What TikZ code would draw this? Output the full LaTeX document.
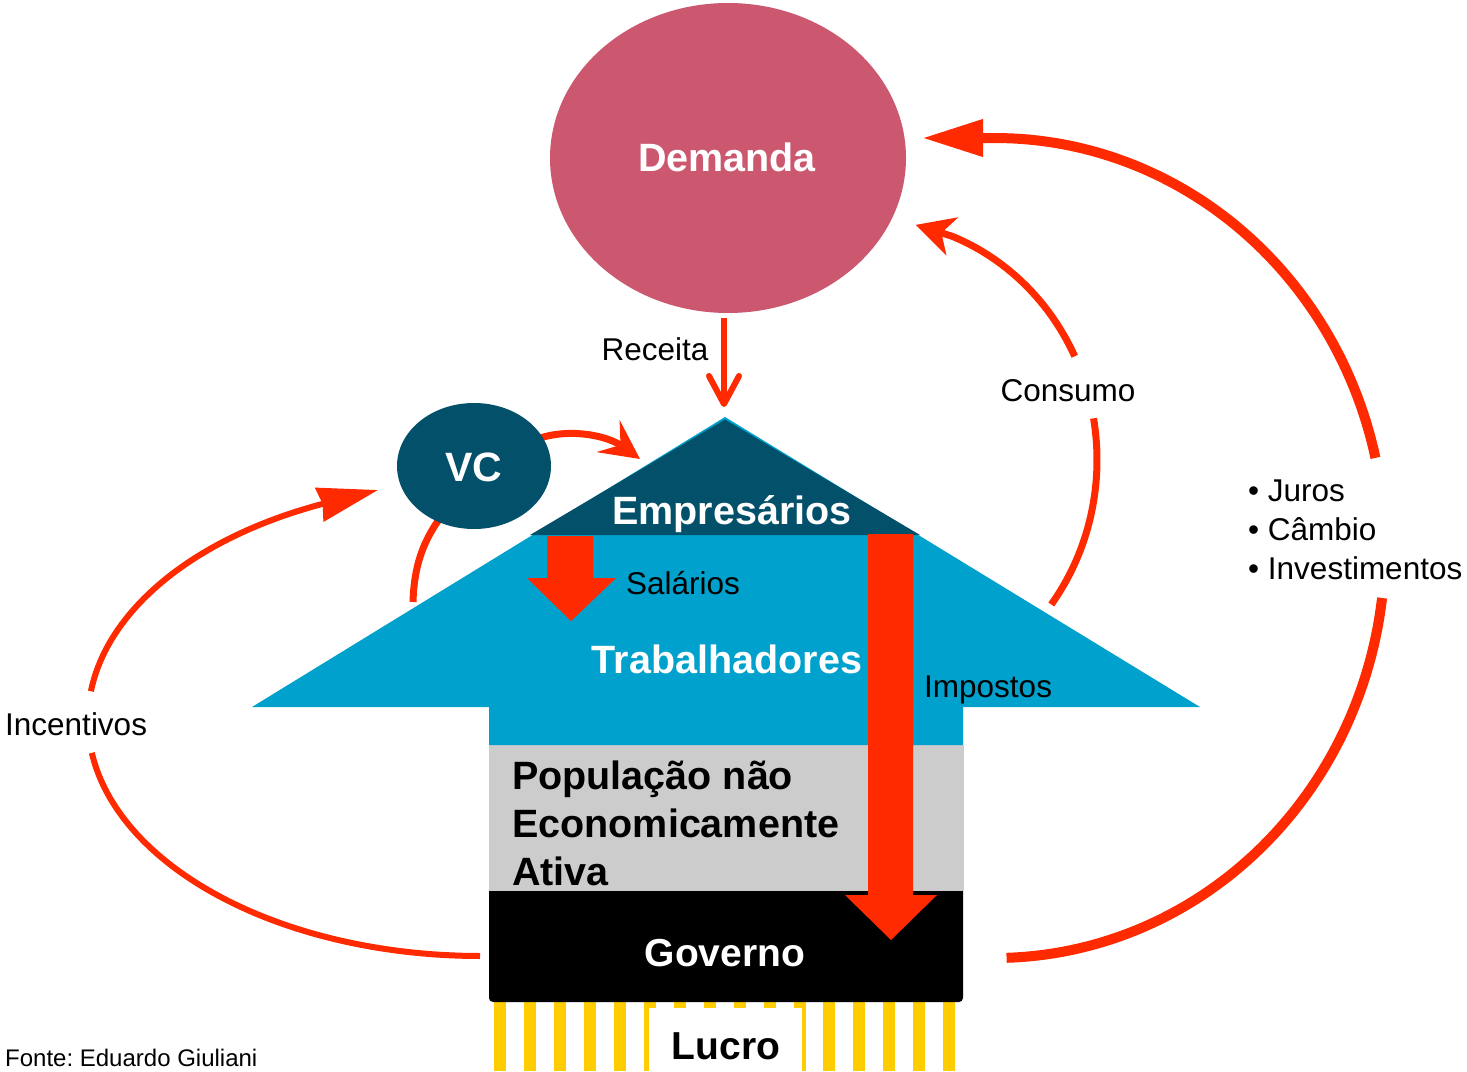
\documentclass[tikz,border=0pt]{standalone}
\usepackage{fontspec}
\setmainfont{Liberation Sans}
\usetikzlibrary{arrows.meta,shapes.geometric}
\definecolor{demcol}{HTML}{CC5870}
\definecolor{darkteal}{HTML}{02506A}
\definecolor{lightblue}{HTML}{00A1CD}
\definecolor{redarr}{HTML}{FF2A00}
\definecolor{grayblk}{HTML}{CCCCCC}
\definecolor{yelstripe}{HTML}{FFCC00}
\frenchspacing
\begin{document}
\begin{tikzpicture}[x=1pt,y=-1pt,
  lbl/.style={font=\fontsize{31.5}{38}\selectfont, inner sep=0, anchor=base},
  lblw/.style={lbl, anchor=base west},
  bigw/.style={font=\fontsize{39.5}{48}\selectfont\bfseries, text=white, inner sep=0, anchor=base},
  bigb/.style={font=\fontsize{39.5}{48}\selectfont\bfseries, text=black, inner sep=0, anchor=base west},
  flow/.style={draw=redarr, line width=7pt},
  blockarr/.style={fill=redarr, draw=none},
  stripe/.style={fill=yelstripe, draw=none},
]
\useasboundingbox (0,0) rectangle (1467,1071);

% named coordinates for connector ends
\coordinate (demtip) at (922,138);
\coordinate (inctip) at (378,490);
\coordinate (constip) at (915.6,224.9);
\coordinate (vctip) at (640,459);
\coordinate (vcstart) at (540,438);
\coordinate (wingpt) at (413,602);
\coordinate (vcbot) at (440,518);
\coordinate (recstart) at (724,318);
\coordinate (rectip) at (724,407);

% stripes below Governo
\foreach \k in {0,...,15}
  \fill[stripe] ({494+29.95*\k},1000) rectangle +(12,71);
\node[fill=white, minimum width=153pt, minimum height=63pt, anchor=north west, inner sep=0] (lucrobox) at (649,1008) {};

% Governo block
\fill[black] (489,891) [rounded corners=4pt] -- (489,1002) -- (963,1002) [sharp corners] -- (963,891) -- cycle;
% Populacao block
\fill[grayblk] (489,745) rectangle (964,891);
% blue arrow shape
\fill[lightblue] (725,417) -- (1200,707) -- (963,707) -- (963,745) -- (489,745) -- (489,707) -- (252,707) -- cycle;
% Empresarios triangle
\fill[darkteal] (725,419.5) -- (920,535) -- (530,535) -- cycle;

% block arrows
\fill[blockarr] (547,536) -- (593,536) -- (593,578) -- (616,578) -- (571,621) -- (527,578) -- (547,578) -- cycle;
\fill[blockarr] (868,534) -- (913,534) -- (913,895) -- (937,895) -- (891,940) -- (845,895) -- (868,895) -- cycle;

% big right arc (Juros / Cambio / Investimentos)
\draw[flow, line width=10pt] plot[domain=7:88.3, samples=60, variable=\t] ({995+390*cos(\t)},{548+410*sin(\t)});
\draw[flow, line width=10pt, -{Triangle[length=61pt,width=35pt]}] plot[domain=-12.7:-90, samples=60, variable=\t] ({995+390*cos(\t)},{548+410*sin(\t)}) -- (demtip);

% Incentivos arc
\draw[flow, line width=6pt] plot[domain=90:172, samples=60, variable=\t] ({480+392*cos(\t)},{720+236*sin(\t)});
\draw[flow, line width=6pt, -{Stealth[length=60pt,width=34pt,inset=3pt]}] plot[domain=187:246, samples=50, variable=\t] ({480+392*cos(\t)},{720+236*sin(\t)}) -- (inctip);

% Consumo arc
\draw[flow] plot[domain=37:-10, samples=40, variable=\t] ({870+227*cos(\t)},{460+240*sin(\t)});
\draw[flow, -{Stealth[length=38pt,width=39pt,inset=11pt]}] plot[domain=-25.6:-68.8, samples=40, variable=\t] ({870+227*cos(\t)},{460+240*sin(\t)}) -- (constip);

% VC arcs
\draw[flow, -{Stealth[length=39pt,width=39pt,inset=15pt]}] (vcstart) .. controls (572,428) and (608,436) .. (vctip);
\draw[flow] (wingpt) .. controls (414,568) and (422,543) .. (vcbot);

% VC and Demanda
\node[ellipse, fill=darkteal, minimum width=154pt, minimum height=126pt, inner sep=0] (vc) at (474,466) {};
\node[ellipse, fill=demcol, minimum width=356pt, minimum height=310pt, inner sep=0] (dem) at (728,158) {};

% Receita arrow
\draw[flow, line width=6pt, -{Straight Barb[length=28pt,width=30pt,round]}] (recstart) -- (rectip);

% texts
\node[bigw] (demtxt) at (727,171) {Demanda};
\node[bigw, font=\fontsize{41}{48}\selectfont\bfseries] (vctxt) at (474,481) {VC};
\node[bigw] (emptxt) at (732,524) {Empresários};
\node[bigw] (trabtxt) at (727,673) {Trabalhadores};
\node[bigb] (pop1) at (512,789) {População não};
\node[bigb] (pop2) at (512,837) {Economicamente};
\node[bigb] (pop3) at (512,885) {Ativa};
\node[bigw, font=\fontsize{39}{48}\selectfont\bfseries] (govtxt) at (725,966) {Governo};
\node[bigw, text=black, font=\fontsize{39}{48}\selectfont\bfseries] (lucrotxt) at (726,1059) {Lucro};

\node[lbl] (rectxt) at (655,360) {Receita};
\node[lblw] (saltxt) at (626,594) {Salários};
\node[lblw] (imptxt) at (924,697) {Impostos};
\node[lbl] (constxt) at (1068,401) {Consumo};
\node[lblw] (inctxt) at (5,735) {Incentivos};
\node[lblw] (b1) at (1248,501) {• Juros};
\node[lblw] (b2) at (1248,540) {• Câmbio};
\node[lblw] (b3) at (1248,579) {• Investimentos};
\node[font=\fontsize{24}{28}\selectfont, inner sep=0, anchor=base west] (fonte) at (5,1066) {Fonte: Eduardo Giuliani};
\end{tikzpicture}
\end{document}
